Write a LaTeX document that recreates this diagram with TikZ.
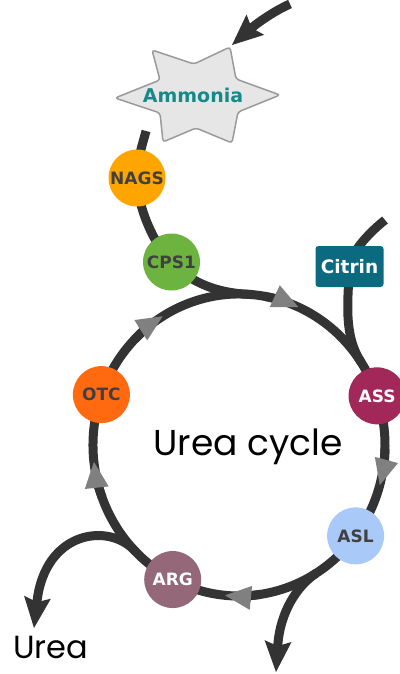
\documentclass[tikz,border=0pt]{standalone}
\usepackage{fontspec}
\setmainfont{DejaVu Sans}
\newfontfamily\geofont{Poppins}
\usetikzlibrary{arrows.meta,backgrounds,calc}
\definecolor{linec}{HTML}{333333}
\definecolor{tipgray}{HTML}{808080}
\definecolor{nagsc}{HTML}{FFA500}
\definecolor{cpsc}{HTML}{6DB33F}
\definecolor{otcc}{HTML}{FF6A10}
\definecolor{assc}{HTML}{A2285A}
\definecolor{aslc}{HTML}{A9C9F8}
\definecolor{argc}{HTML}{946878}
\definecolor{citc}{HTML}{0C6A80}
\definecolor{ammc}{HTML}{168A88}
\definecolor{starfill}{HTML}{E6E6E6}
\definecolor{starline}{HTML}{9A9A9A}
\definecolor{txtdark}{HTML}{404040}
\tikzset{
  enz/.style={circle, minimum size=57pt, inner sep=0pt, text=txtdark, font=\bfseries\fontsize{17}{18}\selectfont},
  citbox/.style={rectangle, rounded corners=3pt, fill=citc, minimum width=68pt, minimum height=41pt, inner sep=0pt, text=white, font=\bfseries\fontsize{18.5}{19}\selectfont},
  cyc/.style={draw=linec, line width=9pt},
  flow/.style={draw=linec, line width=9pt, -{Stealth[length=31pt,width=27pt,inset=5pt,line width=0pt]}},
  cyctip/.style={draw=linec, line width=9pt, -{Triangle[length=26pt,width=24pt,line width=0pt,color=tipgray]}},
  bigtext/.style={font=\geofont\fontsize{36}{38}\selectfont, text=black, inner sep=0pt},
}
\begin{document}
\begin{tikzpicture}[x=1pt,y=-1pt]
\useasboundingbox (0,0) rectangle (399,674);
\coordinate (c) at (239,445);
% star
\filldraw[fill=starfill, draw=starline, line width=1.5pt, rounded corners=3pt]
  (115,98) -- (160,80) -- (152,50) -- (194,64) -- (230,47) -- (236,79) -- (280,95)
  -- (238,112) -- (232,143) -- (196,128) -- (163,142) -- (160,113) -- cycle;
\node[text=ammc, font=\bfseries\fontsize{19}{20}\selectfont] (amm) at (193,95) {Ammonia};
% enzymes
\node[enz, fill=nagsc] (nags) at (137,178) {NAGS};
\node[enz, fill=cpsc] (cps) at (171.5,262) {CPS1};
\node[citbox] (cit) at (349.5,266.5) {Citrin};
\node[enz, fill=otcc] (otc) at ($(c)+(199.5:146 and 151)$) {OTC};
\node[enz, fill=assc, text=white] (ass) at ($(c)+(341:146 and 151)$) {ASS};
\node[enz, fill=aslc] (asl) at ($(c)+(37:146 and 151)$) {ASL};
\node[enz, fill=argc, text=white] (arg) at ($(c)+(117:146 and 151)$) {ARG};
% texts
\node[bigtext, anchor=base] (uc) at (248,455) {Urea cycle};
\node[bigtext, font=\geofont\fontsize{32}{34}\selectfont, anchor=base west] (urea) at (13,658) {Urea};
% free ends and junctions
\coordinate (s1) at (146,131);
\coordinate (ain) at (290,4);
\coordinate (aout) at (232,45);
\coordinate (cin) at (385,220);
\coordinate (pout) at (276,672);
\coordinate (uout) at (34,628);
\coordinate (j1) at ($(c)+(275:146 and 151)$);
\coordinate (j2) at ($(c)+(327:146 and 151)$);
\coordinate (j3) at ($(c)+(58:146 and 151)$);
\coordinate (j4) at ($(c)+(135:146 and 151)$);
\begin{scope}[on background layer]
\draw[cyc] (otc.center) arc[start angle=199.5, end angle=341, x radius=146, y radius=151];
\draw[cyc] (ass.center) arc[start angle=341, end angle=397, x radius=146, y radius=151];
\draw[cyc] (asl.center) arc[start angle=37, end angle=117, x radius=146, y radius=151];
\draw[cyc] (arg.center) arc[start angle=117, end angle=199.5, x radius=146, y radius=151];
\draw[cyc] (s1) .. controls (141,150) and (137,160) .. (nags.center)
  .. controls (136.5,200) and (150,240) .. (cps.center)
  .. controls (190,282) and (215,293) .. (j1);
\draw[cyc] (cin) .. controls (365,236) and (350,255) .. (cit.center)
  .. controls (348,300) and (343,335) .. (j2);
\draw[flow] (ain) .. controls (272,12) and (255,25) .. (aout);
\draw[flow] (j3) .. controls (297,586) and (280,612) .. (pout);
\draw[flow] (j4) .. controls (110,522) and (45,530) .. (uout);
\draw[cyctip] ($(c)+(224.5:146 and 151)$) arc[start angle=224.5, end angle=238.5, x radius=146, y radius=151];
\draw[cyctip] ($(c)+(280:146 and 151)$) arc[start angle=280, end angle=294, x radius=146, y radius=151];
\draw[cyctip] ($(c)+(361.4:146 and 151)$) arc[start angle=361.4, end angle=375.4, x radius=146, y radius=151];
\draw[cyctip] ($(c)+(81.5:146 and 151)$) arc[start angle=81.5, end angle=95.5, x radius=146, y radius=151];
\draw[cyctip] ($(c)+(159.6:146 and 151)$) arc[start angle=159.6, end angle=173.6, x radius=146, y radius=151];
\end{scope}
\end{tikzpicture}
\end{document}
